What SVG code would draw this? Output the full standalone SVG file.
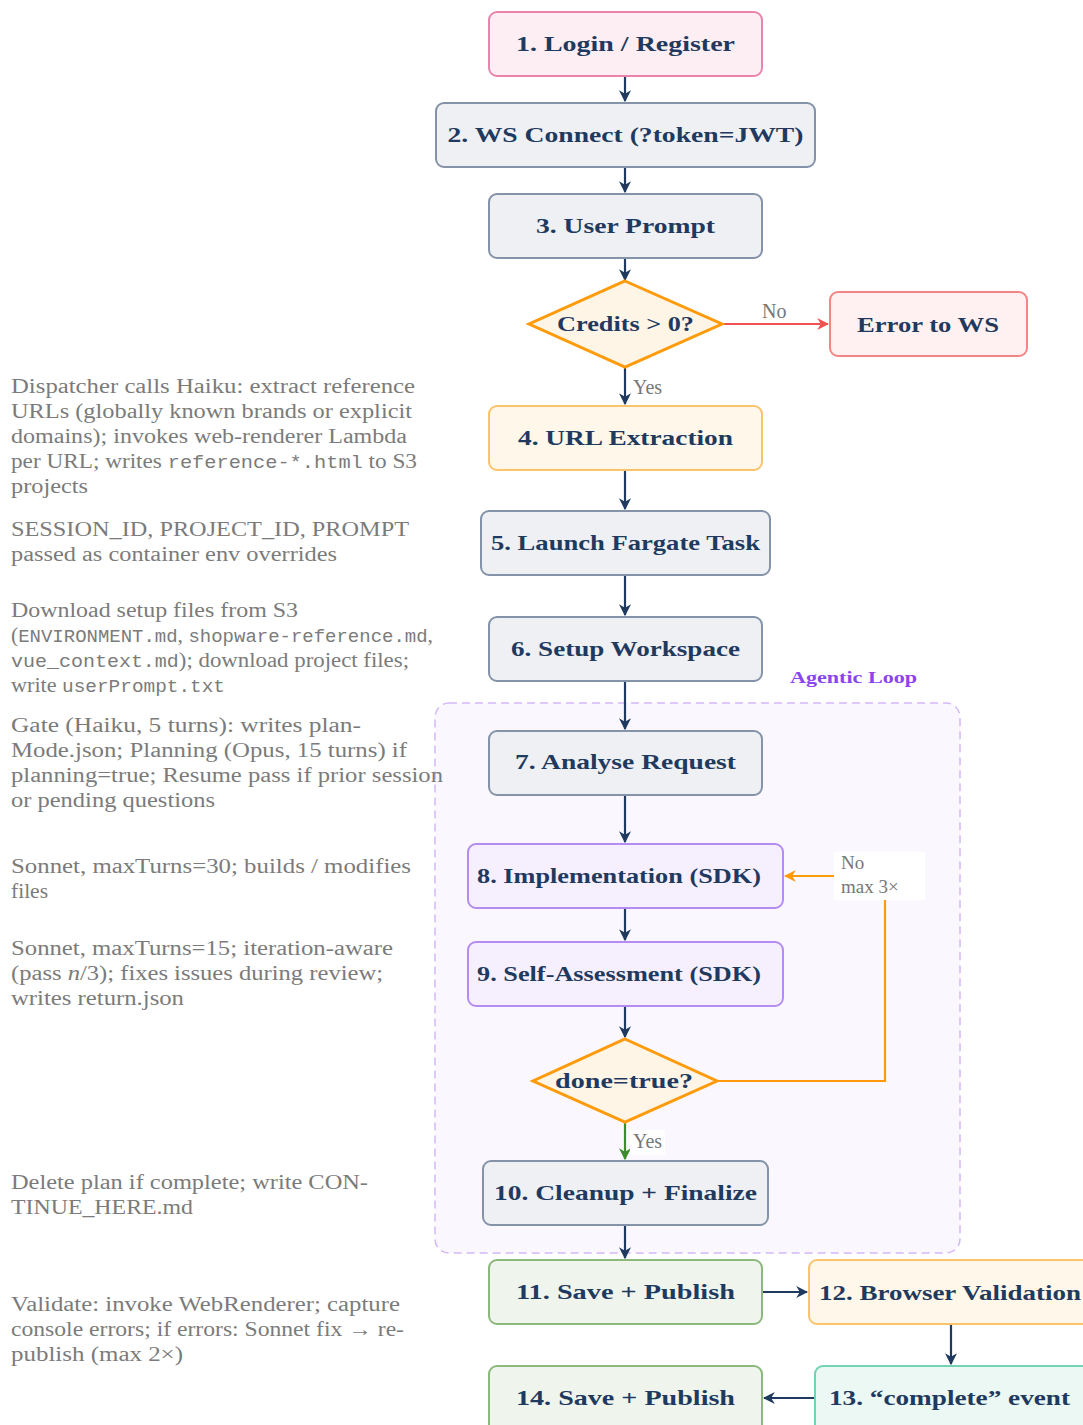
<svg xmlns="http://www.w3.org/2000/svg" width="1083" height="1425" viewBox="0 0 1083 1425">
<style>
.nt{font-family:"Liberation Serif","Times New Roman",serif;font-weight:bold;font-size:22px;fill:#1f3a5e;text-anchor:middle}
.st{font-family:"Liberation Serif","Times New Roman",serif;font-size:20px;fill:#7b7b7b}
.mono{font-family:"Liberation Mono","Courier New",monospace;font-size:17.5px}
.lbl{font-family:"Liberation Serif","Times New Roman",serif;font-size:20px;fill:#777}
.sm{font-size:19px}
.gray rect{fill:#eef0f4;stroke:#8493a8;stroke-width:2}
.pink rect{fill:#fdeef4;stroke:#ec83ab;stroke-width:2}
.red rect{fill:#fff0f1;stroke:#f58485;stroke-width:2}
.orange rect{fill:#fff7ea;stroke:#fbc36a;stroke-width:2}
.purple rect{fill:#f5effe;stroke:#b48cf2;stroke-width:2}
.green rect{fill:#eff5ec;stroke:#8db87c;stroke-width:2}
.teal rect{fill:#ecf8f3;stroke:#72d3b2;stroke-width:2}
.dia polygon{fill:#fff5e6;stroke:#ff9a0a;stroke-width:3}
.c{fill:none;stroke-width:2.2}
.nv{stroke:#1f3a5e}
</style>
<defs>
<marker id="ar" viewBox="0 0 10 10" refX="9" refY="5" markerWidth="12" markerHeight="12" markerUnits="userSpaceOnUse" orient="auto"><path d="M0,0 L10,5 L0,10 L3,5 z" fill="#f05252"/></marker>
<marker id="ao" viewBox="0 0 10 10" refX="9" refY="5" markerWidth="12" markerHeight="12" markerUnits="userSpaceOnUse" orient="auto"><path d="M0,0 L10,5 L0,10 L3,5 z" fill="#ff9a0a"/></marker>
<marker id="ag" viewBox="0 0 10 10" refX="9" refY="5" markerWidth="12" markerHeight="12" markerUnits="userSpaceOnUse" orient="auto"><path d="M0,0 L10,5 L0,10 L3,5 z" fill="#3c8c2c"/></marker>
<marker id="a" viewBox="0 0 10 10" refX="9" refY="5" markerWidth="12" markerHeight="12" markerUnits="userSpaceOnUse" orient="auto"><path d="M0,0 L10,5 L0,10 L3,5 z" fill="#1f3a5e"/></marker>
</defs>

<g id="agentic-loop">
<rect x="435" y="703" width="525" height="550" rx="14" fill="#faf8fe" stroke="#d4b8f7" stroke-width="1.5" stroke-dasharray="8 5"/>
<text x="790" y="683" textLength="127" lengthAdjust="spacingAndGlyphs" style="font-family:'Liberation Serif',serif;font-weight:bold;font-size:16px;fill:#8b44f0">Agentic Loop</text>
</g>

<g id="notes" class="st">
<text x="11" y="393" textLength="404" lengthAdjust="spacingAndGlyphs">Dispatcher calls Haiku: extract reference</text>
<text x="11" y="418" textLength="401" lengthAdjust="spacingAndGlyphs">URLs (globally known brands or explicit</text>
<text x="11" y="443" textLength="396" lengthAdjust="spacingAndGlyphs">domains); invokes web-renderer Lambda</text>
<text x="11" y="468" textLength="406" lengthAdjust="spacingAndGlyphs">per URL; writes <tspan class="mono">reference-*.html</tspan> to S3</text>
<text x="11" y="493" textLength="77" lengthAdjust="spacingAndGlyphs">projects</text>
<text x="11" y="536" textLength="398" lengthAdjust="spacingAndGlyphs">SESSION_ID, PROJECT_ID, PROMPT</text>
<text x="11" y="561" textLength="326" lengthAdjust="spacingAndGlyphs">passed as container env overrides</text>
<text x="11" y="617" textLength="287" lengthAdjust="spacingAndGlyphs">Download setup files from S3</text>
<text x="11" y="642" textLength="422" lengthAdjust="spacingAndGlyphs">(<tspan class="mono">ENVIRONMENT.md</tspan>, <tspan class="mono">shopware-reference.md</tspan>,</text>
<text x="11" y="667" textLength="398" lengthAdjust="spacingAndGlyphs"><tspan class="mono">vue_context.md</tspan>); download project files;</text>
<text x="11" y="692" textLength="214" lengthAdjust="spacingAndGlyphs">write <tspan class="mono">userPrompt.txt</tspan></text>
<text x="11" y="732" textLength="350" lengthAdjust="spacingAndGlyphs">Gate (Haiku, 5 turns): writes plan-</text>
<text x="11" y="757" textLength="396" lengthAdjust="spacingAndGlyphs">Mode.json; Planning (Opus, 15 turns) if</text>
<text x="11" y="782" textLength="432" lengthAdjust="spacingAndGlyphs">planning=true; Resume pass if prior session</text>
<text x="11" y="807" textLength="204" lengthAdjust="spacingAndGlyphs">or pending questions</text>
<text x="11" y="873" textLength="400" lengthAdjust="spacingAndGlyphs">Sonnet, maxTurns=30; builds / modifies</text>
<text x="11" y="898" textLength="37" lengthAdjust="spacingAndGlyphs">files</text>
<text x="11" y="955" textLength="382" lengthAdjust="spacingAndGlyphs">Sonnet, maxTurns=15; iteration-aware</text>
<text x="11" y="980" textLength="372" lengthAdjust="spacingAndGlyphs">(pass <tspan font-style="italic">n</tspan>/3); fixes issues during review;</text>
<text x="11" y="1005" textLength="173" lengthAdjust="spacingAndGlyphs">writes return.json</text>
<text x="11" y="1189" textLength="357" lengthAdjust="spacingAndGlyphs">Delete plan if complete; write CON-</text>
<text x="11" y="1214" textLength="182" lengthAdjust="spacingAndGlyphs">TINUE_HERE.md</text>
<text x="11" y="1311" textLength="389" lengthAdjust="spacingAndGlyphs">Validate: invoke WebRenderer; capture</text>
<text x="11" y="1336" textLength="393" lengthAdjust="spacingAndGlyphs">console errors; if errors: Sonnet fix → re-</text>
<text x="11" y="1361" textLength="172" lengthAdjust="spacingAndGlyphs">publish (max 2×)</text>
</g>

<g id="connectors">
<line class="c nv" x1="625" y1="76" x2="625" y2="101" marker-end="url(#a)"/>
<line class="c nv" x1="625" y1="167" x2="625" y2="192" marker-end="url(#a)"/>
<line class="c nv" x1="625" y1="258" x2="625" y2="280" marker-end="url(#a)"/>
<line class="c" stroke="#f05252" x1="722" y1="324" x2="828" y2="324" marker-end="url(#ar)"/>
<text class="lbl" x="762" y="318">No</text>
<line class="c nv" x1="625" y1="368" x2="625" y2="404" marker-end="url(#a)"/>
<text class="lbl" x="633" y="394">Yes</text>
<line class="c nv" x1="625" y1="470" x2="625" y2="509" marker-end="url(#a)"/>
<line class="c nv" x1="625" y1="575" x2="625" y2="615" marker-end="url(#a)"/>
<line class="c nv" x1="625" y1="681" x2="625" y2="729" marker-end="url(#a)"/>
<line class="c nv" x1="625" y1="795" x2="625" y2="842" marker-end="url(#a)"/>
<line class="c nv" x1="625" y1="908" x2="625" y2="940" marker-end="url(#a)"/>
<line class="c nv" x1="625" y1="1006" x2="625" y2="1037" marker-end="url(#a)"/>
<polyline class="c" stroke="#ff9a0a" points="717,1081 885,1081 885,900"/>
<line class="c" stroke="#ff9a0a" x1="834" y1="876" x2="785" y2="876" marker-end="url(#ao)"/>
<rect x="834" y="852" width="91" height="48" fill="#ffffff"/>
<text class="lbl sm" x="841" y="869">No</text>
<text class="lbl sm" x="841" y="893">max 3×</text>
<line class="c" stroke="#3c8c2c" x1="625" y1="1122" x2="625" y2="1159" marker-end="url(#ag)"/>
<rect x="630" y="1130" width="35" height="25" fill="#ffffff"/>
<text class="lbl" x="633" y="1148">Yes</text>
<line class="c nv" x1="625" y1="1225" x2="625" y2="1258" marker-end="url(#a)"/>
<line class="c nv" x1="762" y1="1292" x2="807" y2="1292" marker-end="url(#a)"/>
<line class="c nv" x1="951" y1="1325" x2="951" y2="1364" marker-end="url(#a)"/>
<line class="c nv" x1="815" y1="1398" x2="764" y2="1398" marker-end="url(#a)"/>
</g>

<g id="n1" class="pink"><rect x="489" y="12" width="273" height="64" rx="8"/><text class="nt" x="625.5" y="51" textLength="219" lengthAdjust="spacingAndGlyphs">1. Login / Register</text></g>
<g id="n2" class="gray"><rect x="436" y="103" width="379" height="64" rx="8"/><text class="nt" x="625.5" y="142" textLength="356" lengthAdjust="spacingAndGlyphs">2. WS Connect (?token=JWT)</text></g>
<g id="n3" class="gray"><rect x="489" y="194" width="273" height="64" rx="8"/><text class="nt" x="625.5" y="233" textLength="179" lengthAdjust="spacingAndGlyphs">3. User Prompt</text></g>
<g id="d1" class="dia"><polygon points="625,281 722,324 625,367 529,324"/><text class="nt" x="625.5" y="331" textLength="137" lengthAdjust="spacingAndGlyphs">Credits &gt; 0?</text></g>
<g id="err" class="red"><rect x="830" y="292" width="197" height="64" rx="8"/><text class="nt" x="928" y="332" textLength="142" lengthAdjust="spacingAndGlyphs">Error to WS</text></g>
<g id="n4" class="orange"><rect x="489" y="406" width="273" height="64" rx="8"/><text class="nt" x="625.5" y="445" textLength="215" lengthAdjust="spacingAndGlyphs">4. URL Extraction</text></g>
<g id="n5" class="gray"><rect x="481" y="511" width="289" height="64" rx="8"/><text class="nt" x="625.5" y="550" textLength="269" lengthAdjust="spacingAndGlyphs">5. Launch Fargate Task</text></g>
<g id="n6" class="gray"><rect x="489" y="617" width="273" height="64" rx="8"/><text class="nt" x="625.5" y="656" textLength="229" lengthAdjust="spacingAndGlyphs">6. Setup Workspace</text></g>
<g id="n7" class="gray"><rect x="489" y="731" width="273" height="64" rx="8"/><text class="nt" x="625.5" y="769" textLength="221" lengthAdjust="spacingAndGlyphs">7. Analyse Request</text></g>
<g id="n8" class="purple"><rect x="468" y="844" width="315" height="64" rx="8"/><text class="nt" x="619" y="883" textLength="284" lengthAdjust="spacingAndGlyphs">8. Implementation (SDK)</text></g>
<g id="n9" class="purple"><rect x="468" y="942" width="315" height="64" rx="8"/><text class="nt" x="619" y="981" textLength="284" lengthAdjust="spacingAndGlyphs">9. Self-Assessment (SDK)</text></g>
<g id="d2" class="dia"><polygon points="625,1039 717,1081 625,1122 533,1081"/><text class="nt" x="624" y="1088" textLength="138" lengthAdjust="spacingAndGlyphs">done=true?</text></g>
<g id="n10" class="gray"><rect x="483" y="1161" width="285" height="64" rx="8"/><text class="nt" x="625.5" y="1200" textLength="263" lengthAdjust="spacingAndGlyphs">10. Cleanup + Finalize</text></g>
<g id="n11" class="green"><rect x="489" y="1260" width="273" height="64" rx="8"/><text class="nt" x="625.5" y="1299" textLength="219" lengthAdjust="spacingAndGlyphs">11. Save + Publish</text></g>
<g id="n12" class="orange"><rect x="809" y="1260" width="290" height="64" rx="8"/><text class="nt" x="950" y="1300" textLength="262" lengthAdjust="spacingAndGlyphs">12. Browser Validation</text></g>
<g id="n13" class="teal"><rect x="815" y="1366" width="284" height="70" rx="8"/><text class="nt" x="949.5" y="1405" textLength="241" lengthAdjust="spacingAndGlyphs">13. “complete” event</text></g>
<g id="n14" class="green"><rect x="489" y="1366" width="273" height="70" rx="8"/><text class="nt" x="625.5" y="1405" textLength="219" lengthAdjust="spacingAndGlyphs">14. Save + Publish</text></g>
</svg>
